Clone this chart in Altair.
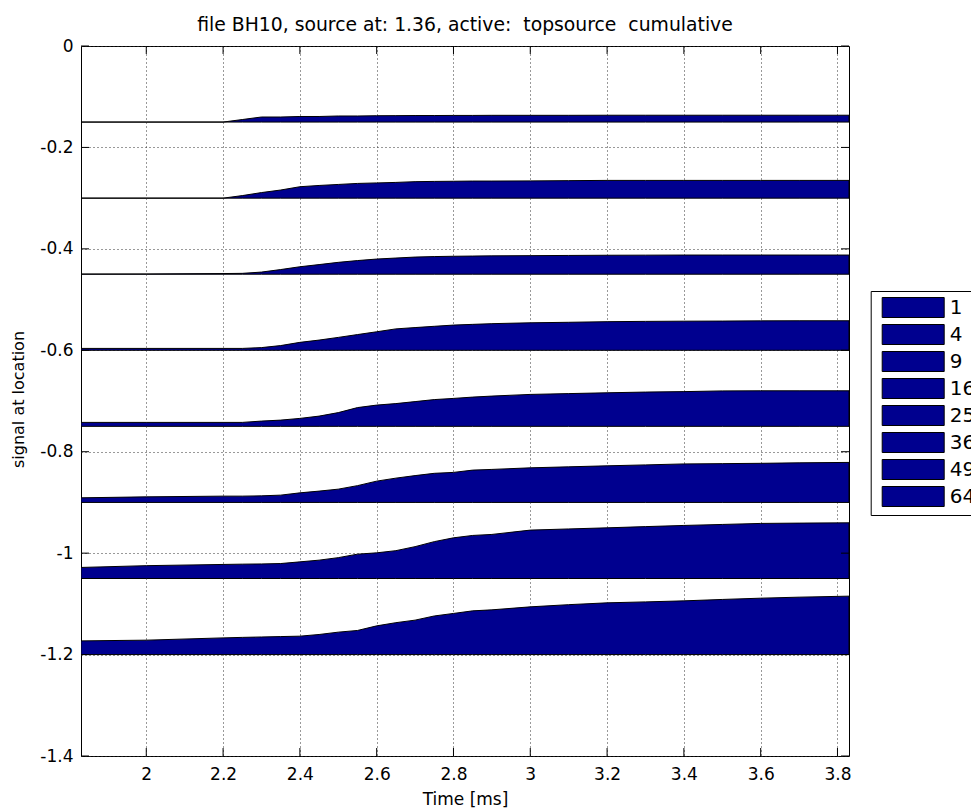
import altair as alt
import pandas as pd

FONT = "DejaVu Sans"
NAVY = "#00008F"
W, H = 768, 710

title_text = "file BH10, source at: 1.36, active: \u00a0topsource \u00a0cumulative"
labels = ["1", "4", "9", "16", "25", "36", "49", "64"]
baselines = [-0.15, -0.30, -0.45, -0.60, -0.75, -0.90, -1.05, -1.20]

time_ms = [1.83, 2.0, 2.2, 2.25, 2.3, 2.35, 2.4, 2.45, 2.5, 2.55, 2.6, 2.65, 2.7,
           2.75, 2.8, 2.85, 2.9, 3.0, 3.1, 3.2, 3.3, 3.4, 3.5, 3.6, 3.7, 3.83]

s1 = [-0.150, -0.150, -0.150, -0.145, -0.140, -0.140, -0.139, -0.139, -0.138, -0.138,
      -0.1375, -0.1373, -0.1371, -0.1371, -0.1369, -0.1369, -0.1367, -0.1367, -0.1367,
      -0.1365, -0.1365, -0.1365, -0.1365, -0.1365, -0.1365, -0.1365]
s2 = [-0.300, -0.300, -0.300, -0.295, -0.289, -0.284, -0.2775, -0.275, -0.273, -0.271,
      -0.270, -0.269, -0.2675, -0.267, -0.2667, -0.2663, -0.2663, -0.266, -0.2655,
      -0.265, -0.265, -0.265, -0.265, -0.265, -0.265, -0.265]
s3 = [-0.4497, -0.4495, -0.4487, -0.4483, -0.4458, -0.4408, -0.4353, -0.431, -0.4266,
      -0.4231, -0.4201, -0.4181, -0.4162, -0.4152, -0.4146, -0.4142, -0.4138, -0.4134,
      -0.413, -0.4126, -0.4124, -0.4122, -0.4122, -0.4122, -0.4122, -0.4122]
s4 = [-0.5963, -0.5963, -0.5963, -0.5963, -0.5947, -0.5907, -0.5844, -0.5799, -0.5746,
      -0.569, -0.5635, -0.5578, -0.5552, -0.5527, -0.5503, -0.5489, -0.5475, -0.5458,
      -0.5448, -0.5436, -0.543, -0.5426, -0.5424, -0.542, -0.5418, -0.5418]
s5 = [-0.7422, -0.7422, -0.7422, -0.7422, -0.7396, -0.7377, -0.7343, -0.7298, -0.7229,
      -0.713, -0.7081, -0.7051, -0.7012, -0.6972, -0.6949, -0.6923, -0.6903, -0.687,
      -0.6854, -0.6838, -0.6824, -0.6815, -0.6801, -0.6799, -0.6799, -0.6799]
s6 = [-0.8909, -0.889, -0.8876, -0.8876, -0.887, -0.8856, -0.8811, -0.8777, -0.8738,
      -0.8669, -0.858, -0.8521, -0.8471, -0.8426, -0.8408, -0.8363, -0.8349, -0.8318,
      -0.8298, -0.8278, -0.826, -0.8241, -0.8235, -0.8229, -0.8219, -0.8211]
s7 = [-1.0282, -1.0247, -1.0223, -1.0217, -1.0213, -1.0205, -1.0172, -1.0138, -1.0089,
      -1.002, -0.9994, -0.9951, -0.9872, -0.9773, -0.9698, -0.9651, -0.9631, -0.9546,
      -0.9523, -0.9501, -0.9477, -0.9454, -0.9434, -0.9414, -0.9408, -0.9402]
s8 = [-1.173, -1.1716, -1.1671, -1.1661, -1.1653, -1.1645, -1.1637, -1.1604, -1.1558,
      -1.1525, -1.1434, -1.1371, -1.1321, -1.1239, -1.1189, -1.1138, -1.1118, -1.1059,
      -1.1016, -1.098, -1.0961, -1.0941, -1.0913, -1.0888, -1.0868, -1.0848]

x_ticks = [2.0, 2.2, 2.4, 2.6, 2.8, 3.0, 3.2, 3.4, 3.6, 3.8]
y_ticks = [0.0, -0.2, -0.4, -0.6, -0.8, -1.0, -1.2, -1.4]

series = [s1, s2, s3, s4, s5, s6, s7, s8]
rows = []
for lab, base, vals in zip(labels, baselines, series):
    for t, v in zip(time_ms, vals):
        rows.append({"time": t, "signal": v, "base": base, "label": lab})
df = pd.DataFrame(rows)

xscale = alt.Scale(domain=[1.83, 3.83], nice=False, zero=False)
yscale = alt.Scale(domain=[-1.4, 0.0], nice=False, zero=False)

x_axis = alt.Axis(values=x_ticks, format="~g", title="Time [ms]", grid=True,
                  labelPadding=10, titleY=48, titleBaseline="alphabetic",
                  titleFontSize=17)
y_axis = alt.Axis(values=y_ticks, format="~g", title="signal at location", grid=True,
                  labelExpr="replace(datum.label, '\u2212', '-')",
                  labelPadding=8, titleX=-58, titleY=H / 2 - 2,
                  titleBaseline="alphabetic", titleAngle=270, titleFontSize=16)

areas = alt.Chart(df).mark_area(stroke="black", strokeWidth=1, clip=True,
                                interpolate="linear", opacity=1).encode(
    x=alt.X("time:Q", scale=xscale, axis=x_axis),
    y=alt.Y("signal:Q", scale=yscale, axis=y_axis),
    y2="base:Q",
    color=alt.Color(
        "label:N",
        scale=alt.Scale(domain=labels, range=[NAVY] * len(labels)),
        legend=alt.Legend(
            title=None, orient="none", legendX=789.7, legendY=245,
            symbolType="M-3.1,-1L3.1,-1L3.1,1L-3.1,1Z", symbolSize=400,
            symbolStrokeColor="black", symbolStrokeWidth=1, symbolOffset=26,
            symbolOpacity=1,
            labelOffset=26, labelFont=FONT, labelFontSize=20, labelColor="black",
            rowPadding=2, padding=6, strokeColor="black", fillColor="white",
            cornerRadius=0, labelLimit=0,
        ),
    ),
)

xt = pd.DataFrame({"time": x_ticks})
yt = pd.DataFrame({"signal": y_ticks})
TL = 8
bottom_ticks = alt.Chart(xt).mark_rule(color="black", strokeWidth=1).encode(
    x=alt.X("time:Q", scale=xscale), y=alt.value(H), y2=alt.value(H - TL))
top_ticks = alt.Chart(xt).mark_rule(color="black", strokeWidth=1).encode(
    x=alt.X("time:Q", scale=xscale), y=alt.value(0), y2=alt.value(TL))
left_ticks = alt.Chart(yt).mark_rule(color="black", strokeWidth=1).encode(
    y=alt.Y("signal:Q", scale=yscale), x=alt.value(0), x2=alt.value(TL))
right_ticks = alt.Chart(yt).mark_rule(color="black", strokeWidth=1).encode(
    y=alt.Y("signal:Q", scale=yscale), x=alt.value(W), x2=alt.value(W - TL))

chart = alt.layer(areas, bottom_ticks, top_ticks, left_ticks, right_ticks).properties(
    width=W, height=H,
    title=alt.Title(title_text, font=FONT, fontSize=18.8, fontWeight="normal",
                    color="black", anchor="middle", frame="group",
                    baseline="alphabetic", offset=15.3, dy=28),
    autosize=alt.AutoSizeParams(type="none"),
    padding={"left": 81, "top": 46, "right": 122, "bottom": 54},
).configure_view(
    stroke="black", strokeWidth=1
).configure_axis(
    labelFont=FONT, labelFontSize=17, labelColor="black",
    titleFont=FONT, titleColor="black", titleFontWeight="normal",
    domain=False, ticks=False,
    gridColor="#333333", gridDash=[1, 3], gridWidth=1, gridOpacity=1,
)

chart.save("out.html", embed_options={"renderer": "svg", "actions": False})
